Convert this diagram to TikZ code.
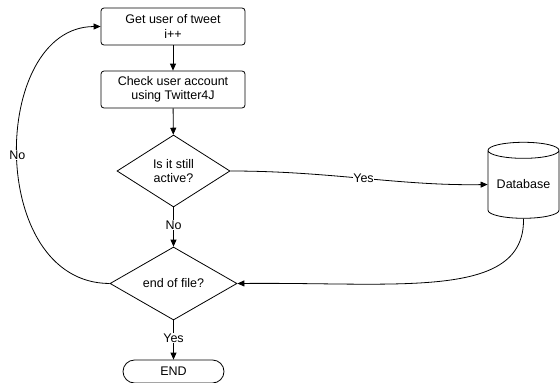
\documentclass[tikz,border=0pt]{standalone}
\usepackage{fontspec}
\setmainfont{Liberation Sans}
\usetikzlibrary{shapes.geometric,arrows.meta}
\begin{document}
\begin{tikzpicture}[x=1pt,y=-1pt,
  every node/.style={font=\fontsize{12.5}{14.5}\selectfont},
  box/.style={draw,rounded corners=3pt,minimum width=144pt,minimum height=37pt,align=center,inner sep=1pt, line width=0.8pt},
  dia/.style={draw,diamond,aspect=1.6,inner sep=0pt,align=center,line width=0.8pt},
  lbl/.style={fill=white,inner sep=0.5pt},
  arr/.style={line width=0.8pt,-{Triangle[length=7pt,width=6pt]}},
  ln/.style={line width=0.8pt}]
\useasboundingbox (0,0) rectangle (560,383);
\node[box] (b1) at (173,26.5) {Get user of tweet\\i++};
\node[box] (b2) at (173,89.5) {Check user account\\using Twitter4J};
\node[dia,minimum width=113pt,minimum height=72pt] (d1) at (173.5,171) {Is it still\\active?};
\node[dia,minimum width=127pt,minimum height=73pt] (d2) at (173.5,283.5) {end of file?};
\node[draw,rounded corners=11.5pt,minimum width=101pt,minimum height=23pt,line width=0.8pt,inner sep=0pt] (e) at (173.5,371.5) {END};
\node[draw,cylinder,shape border rotate=90,aspect=0.3,minimum width=71pt,minimum height=76pt,line width=0.8pt,inner sep=0pt] (db) at (523.5,184.5) {Database};
\draw[arr] (b1) -- (b2);
\draw[arr] (b2) -- (d1);
\draw[arr] (d1) -- node[lbl,pos=0.45]{No} (d2);
\draw[arr] (d2) -- node[lbl,pos=0.45]{Yes} (e);
\draw[arr] (d1.east) .. controls (330,171) and (400,186) .. node[lbl,pos=0.5]{Yes} (db.west);
\draw[arr] (db.south) .. controls (525,300) and (400,282) .. (d2.east);
\draw[arr] (d2.west) .. controls (-14,283) and (-10,27) .. node[lbl,pos=0.5]{No} (b1.west);
\end{tikzpicture}
\end{document}
